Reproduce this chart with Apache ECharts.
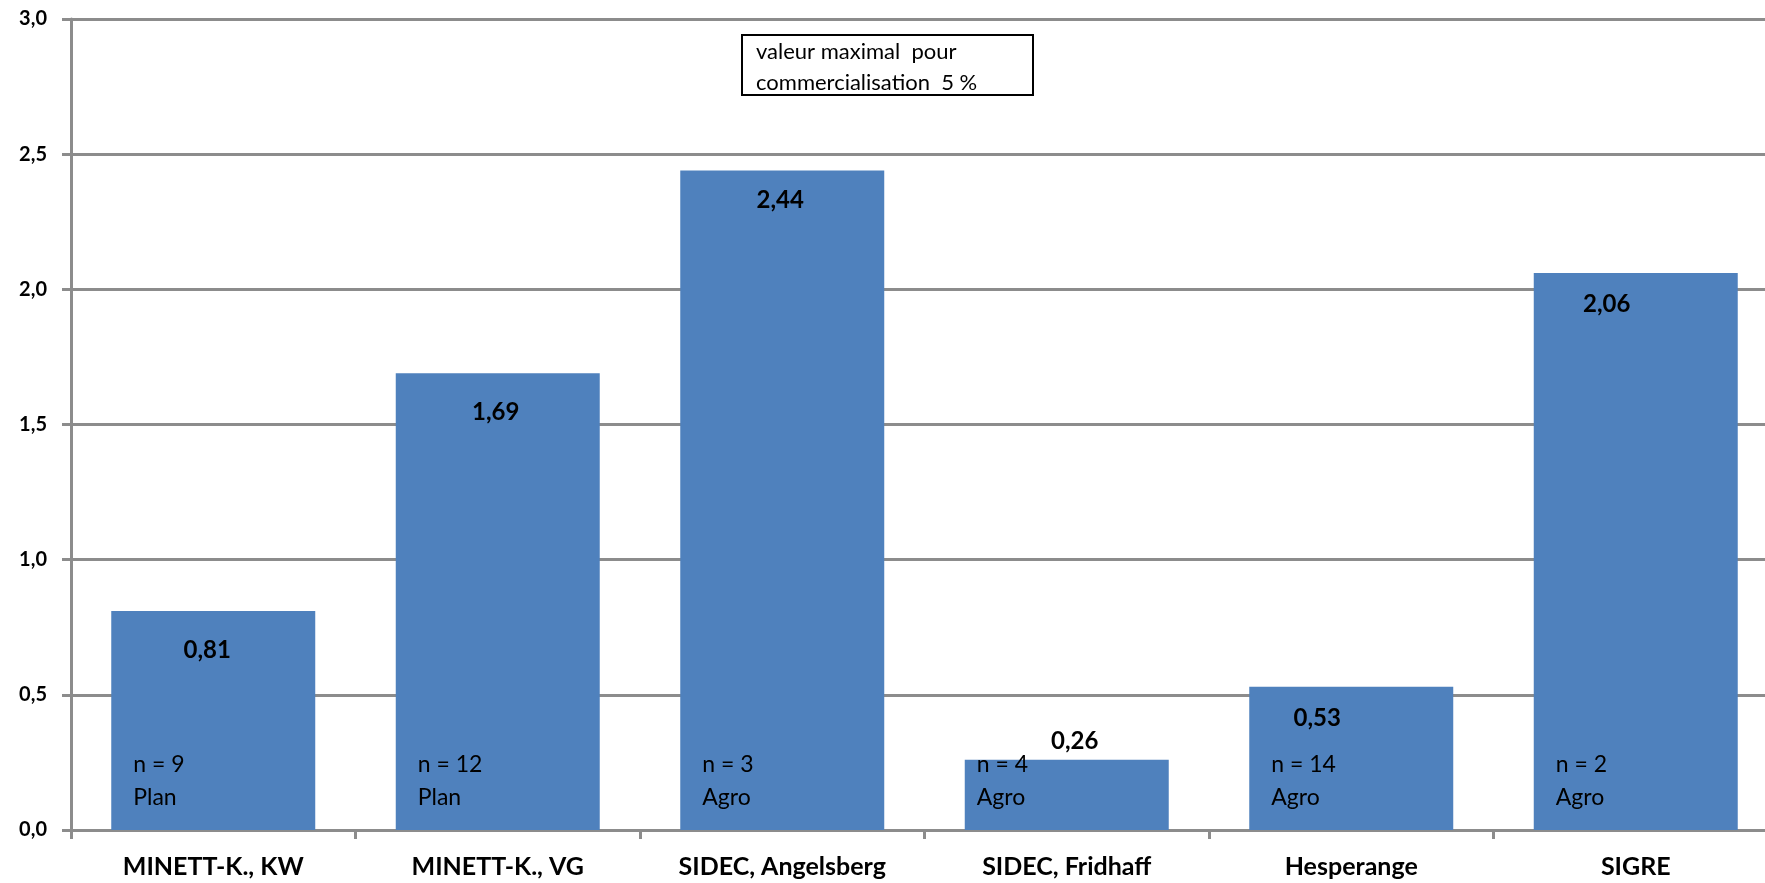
<!DOCTYPE html>
<html>
<head>
<meta charset="utf-8">
<script src="https://cdn.jsdelivr.net/npm/echarts@6/dist/echarts.min.js"></script>
<style>
html,body{margin:0;padding:0;background:#fff;}
#chart{width:1765px;height:883px;}
</style>
</head>
<body>
<div id="chart"></div>
<script>
const categories = ['MINETT-K., KW', 'MINETT-K., VG', 'SIDEC, Angelsberg', 'SIDEC, Fridhaff', 'Hesperange', 'SIGRE'];
const values = [0.81, 1.69, 2.44, 0.26, 0.53, 2.06];
const sampleCounts = [9, 12, 3, 4, 14, 2];
const sampleTypes = ['Plan', 'Plan', 'Agro', 'Agro', 'Agro', 'Agro'];
const noteLines = ['valeur maximal  pour', 'commercialisation  5 %'];

// label style nudges (as placed in the original chart)
const valueLabelNudge = [[-6, 7], [-2, 7], [-2, -2], [8, 0], [-34, 0], [-29, -1]];
const countLabelNudge = [[6, 0], [6, 0], [6, 0], [-4, 0], [6, 0], [6, 0]];

const FONT = 'Lato, "Open Sans", sans-serif';
const GRAY = '#8c8c8c';
const fmt = v => v.toFixed(2).replace('.', ',');

const chart = echarts.init(document.getElementById('chart'), null, {renderer: 'canvas'});
chart.setOption({
  animation: false,
  backgroundColor: '#fff',
  grid: {left: 71, top: 19, bottom: 53, width: 1707, containLabel: false, outerBoundsMode: 'none'},
  xAxis: {
    type: 'category',
    data: categories,
    axisLine: {lineStyle: {color: GRAY, width: 3}},
    axisTick: {show: true, length: 9, lineStyle: {color: GRAY, width: 3}},
    axisLabel: {color: '#000', fontFamily: FONT, fontWeight: 'bold', fontSize: 25, margin: 24, interval: 0}
  },
  yAxis: {
    type: 'value',
    min: 0, max: 3, interval: 0.5,
    axisLine: {show: true, lineStyle: {color: GRAY, width: 3}},
    axisTick: {show: true, length: 9, lineStyle: {color: GRAY, width: 3}},
    splitLine: {show: true, lineStyle: {color: GRAY, width: 3}},
    axisLabel: {color: '#000', fontFamily: FONT, fontWeight: 'bold', fontSize: 20, margin: 24,
      formatter: v => v.toFixed(1).replace('.', ',')}
  },
  series: [
    {
      type: 'bar',
      data: values.map((v, i) => ({
        value: v,
        label: v < 0.4
          ? {position: 'top', distance: 6, offset: valueLabelNudge[i]}
          : {position: 'insideTop', distance: 20, offset: valueLabelNudge[i]}
      })),
      barWidth: '71.7%',
      itemStyle: {color: '#4F81BD'},
      label: {show: true, color: '#000', fontFamily: FONT, fontWeight: 'bold', fontSize: 24,
        formatter: p => fmt(p.value)},
      z: 2
    },
    {
      type: 'bar',
      data: values.map((v, i) => ({value: v, label: {offset: countLabelNudge[i]}})),
      barGap: '-100%',
      barWidth: '71.7%',
      silent: true,
      itemStyle: {color: 'rgba(0,0,0,0)'},
      label: {show: true, position: 'insideBottomLeft', distance: 16, color: '#000', fontFamily: FONT,
        fontSize: 23, lineHeight: 33, align: 'left',
        formatter: p => 'n = ' + sampleCounts[p.dataIndex] + '\n' + sampleTypes[p.dataIndex]},
      z: 3
    }
  ],
  graphic: [
    {
      type: 'group', left: 741, top: 34,
      children: [
        {type: 'rect', shape: {x: 0, y: 0, width: 291, height: 60}, style: {fill: '#fff', stroke: '#000', lineWidth: 2}},
        {type: 'text', x: 14, y: 1, style: {text: noteLines.join('\n'), fill: '#000', font: '22px ' + FONT, lineHeight: 31}}
      ]
    }
  ]
});
</script>
</body>
</html>
